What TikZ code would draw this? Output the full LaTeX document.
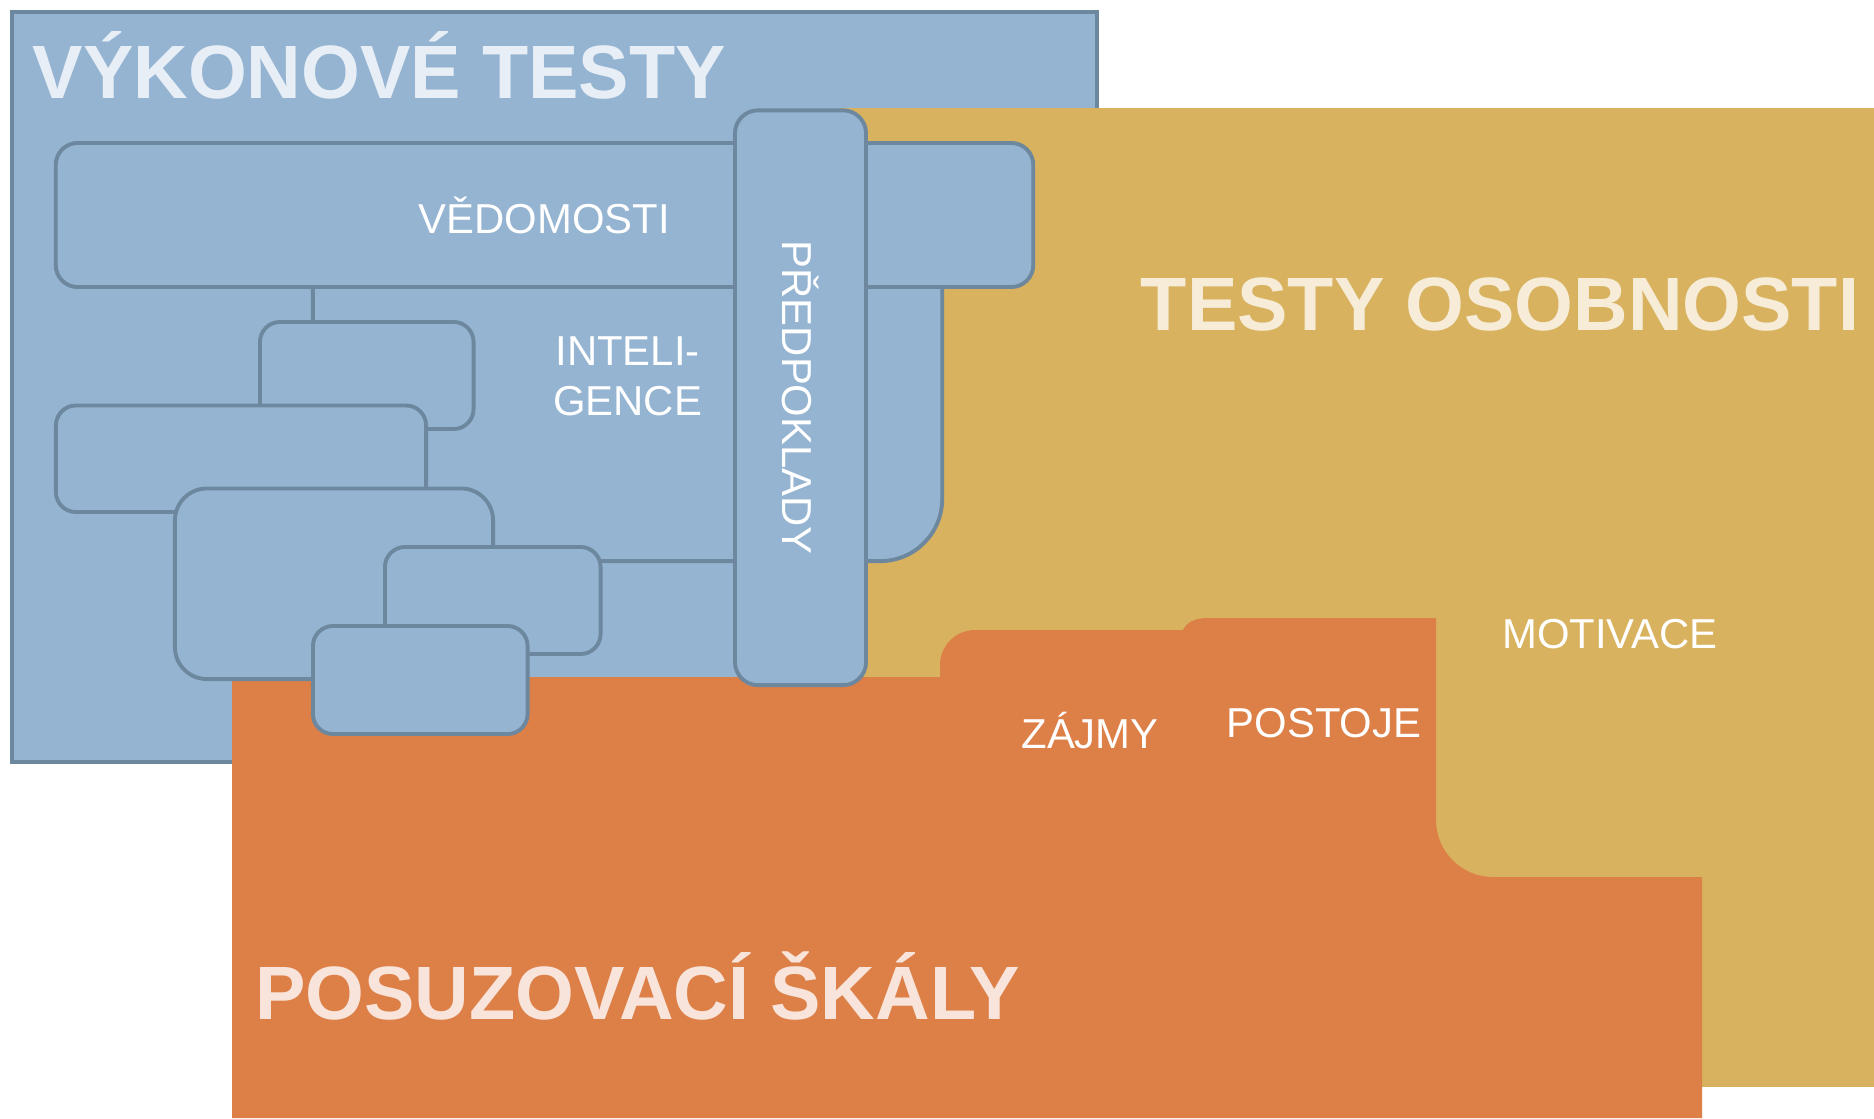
\documentclass[tikz,border=0pt]{standalone}
\usepackage{fontspec}
\setmainfont{Liberation Sans}
\usetikzlibrary{positioning}
\definecolor{PerfBlue}{HTML}{94B4D1}
\definecolor{PerfEdge}{HTML}{6C879E}
\definecolor{PersGold}{HTML}{D8B25E}
\definecolor{ScaleOrange}{HTML}{DD8048}
\definecolor{PerfText}{HTML}{E8EEF6}
\definecolor{PersText}{HTML}{F6ECD8}
\definecolor{ScaleText}{HTML}{F8E4DA}

\begin{document}
\begin{tikzpicture}[
    x=0.01cm, y=-0.01cm,
    skill/.style={
      draw=PerfEdge,
      fill=PerfBlue,
      line width=1.1pt,
      rounded corners=0.2cm,
      inner sep=0pt,
      text=white,
      font=\fontsize{11.9}{14.2}\selectfont,
      align=center
    },
    title/.style={
      font=\fontsize{21.5}{24}\selectfont\bfseries,
      inner sep=0pt
    },
    label/.style={
      text=white,
      font=\fontsize{11.9}{14.2}\selectfont,
      inner sep=0pt
    }
  ]
  \useasboundingbox (0,0) rectangle (1874,1118);

  % Regions
  \draw[draw=PerfEdge, fill=PerfBlue, line width=1.1pt] (12,12) rectangle (1097,762);
  \fill[PersGold] (840,108) rectangle (1874,1087);
  \fill[ScaleOrange] (232,1118) -- (232,677) -- (940,677) -- (940,665)
    .. controls (940,645.7) and (955.7,630) .. (975,630) -- (1183,630)
    .. controls (1187,622) and (1195,618) .. (1208,618) -- (1436,618) -- (1436,820)
    .. controls (1436,851.5) and (1461.5,877) .. (1493,877) -- (1702,877)
    -- (1702,1118) -- cycle;

  % Titles
  \node[title, text=PerfText, anchor=base west] (perf) at (32,98) {VÝKONOVÉ TESTY};
  \node[title, text=PersText, anchor=base] (pers) at (1500,330) {TESTY OSOBNOSTI};
  \node[title, text=ScaleText, anchor=base] (scale) at (637.5,1019) {POSUZOVACÍ ŠKÁLY};

  % Performance boxes
  \node[skill, rounded corners=0.62cm, minimum width=6.29cm, minimum height=3.7cm]
    (intel) at (627.5,376) {INTELI-\\GENCE};
  \node[skill, rounded corners=0.22cm, minimum width=9.77cm, minimum height=1.44cm]
    (know) at (544.5,215) {VĚDOMOSTI};
  \node[skill, minimum width=2.135cm, minimum height=1.07cm] (b1) at (366.75,375.5) {};
  \node[skill, minimum width=3.7cm, minimum height=1.065cm] (b2) at (241,458.75) {};
  \node[skill, rounded corners=0.32cm, minimum width=3.18cm, minimum height=1.905cm]
    (b3) at (334,583.75) {};
  \node[skill, minimum width=2.155cm, minimum height=1.07cm] (b4) at (492.75,600.5) {};
  \node[skill, minimum width=2.145cm, minimum height=1.08cm] (b5) at (420.25,680) {};
  \node[skill, rounded corners=0.23cm, rotate=-90, minimum width=5.745cm, minimum height=1.31cm]
    (pred) at (800.5,397.75) {PŘEDPOKLADY};

  % Labels
  \node[label, anchor=base] (motiv) at (1610,648) {MOTIVACE};
  \node[label, anchor=base] (inter) at (1090,748.5) {ZÁJMY};
  \node[label, anchor=base] (attit) at (1324,737) {POSTOJE};

\end{tikzpicture}
\end{document}
